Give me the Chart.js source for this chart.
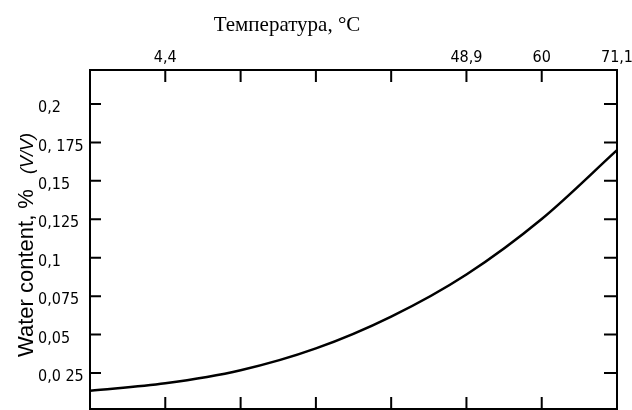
<!DOCTYPE html>
<html>
<head>
<meta charset="utf-8">
<script src="https://cdn.jsdelivr.net/npm/chart.js@4.4.0/dist/chart.umd.min.js"></script>
<style>
  body { margin: 0; background: #fff; }
  #wrap { width: 632px; height: 410px; }
</style>
</head>
<body>
<div id="wrap"><canvas id="waterChart" width="632" height="410"></canvas></div>
<script>
// curve (temperature in °C, water content in % V/V)
const tempC = [-6.67, 4.44, 15.56, 26.67, 37.78, 48.89, 60, 71.11];
const water = [0.0135, 0.0183, 0.0268, 0.041, 0.0617, 0.0891, 0.1252, 0.170];

// ticks every 20 °F (20..160 °F), only some of them carry a label
const tempTicks = [-6.67, 4.44, 15.56, 26.67, 37.78, 48.89, 60, 71.11];
const tempLabels = ['', '4,4', '', '', '', '48,9', '60', '71,1'];
const waterTicks = [0.025, 0.05, 0.075, 0.1, 0.125, 0.15, 0.175, 0.2];
const waterLabels = ['0,0 25', '0,05', '0,075', '0,1', '0,125', '0,15', '0, 175', '0,2'];

const tickFont = { family: "'DejaVu Sans Condensed', 'DejaVu Sans'", size: 16 };

// tick marks point into the plot on all four sides
const tickLen = { x: 12, x2: 12, y: 11, y2: 13 };
const inwardTicks = {
  id: 'inwardTicks',
  afterDraw(chart) {
    const ctx = chart.ctx;
    const a = chart.chartArea;
    ctx.save();
    ctx.strokeStyle = '#000';
    ctx.lineWidth = 2;
    ctx.beginPath();
    Object.keys(tickLen).forEach(id => {
      const s = chart.scales[id];
      const len = tickLen[id];
      s.ticks.forEach(t => {
        const p = s.getPixelForValue(t.value);
        if (s.position === 'top') { ctx.moveTo(p, a.top); ctx.lineTo(p, a.top + len); }
        if (s.position === 'bottom') { ctx.moveTo(p, a.bottom); ctx.lineTo(p, a.bottom - len); }
        if (s.position === 'left') { ctx.moveTo(a.left, p); ctx.lineTo(a.left + len, p); }
        if (s.position === 'right') { ctx.moveTo(a.right, p); ctx.lineTo(a.right - len, p); }
      });
    });
    ctx.stroke();
    ctx.restore();
  }
};

// axis titles: serif title on top, rotated one with italic (V/V) on the left
const axisTitles = {
  id: 'axisTitles',
  afterDraw(chart) {
    const ctx = chart.ctx;
    ctx.save();
    ctx.fillStyle = '#000';
    ctx.font = "21px 'Liberation Serif'";
    ctx.textAlign = 'center';
    ctx.textBaseline = 'alphabetic';
    ctx.fillText('Температура, °C', 287, 31);

    ctx.translate(33, 357);
    ctx.rotate(-Math.PI / 2);
    ctx.textAlign = 'left';
    ctx.font = "22px 'Liberation Sans'";
    const main = 'Water content, %';
    ctx.fillText(main, 0, 0);
    const w = ctx.measureText(main).width;
    ctx.font = "italic 18px 'Liberation Sans'";
    ctx.fillText('(V/V)', w + 15, 0);
    ctx.restore();
  }
};

const edge = { display: true, color: '#000', width: 2 };
const noGrid = { display: false, drawTicks: false };

// force the box sizes and drop the label overflow padding
function boxSize(w, h) {
  return s => {
    if (w !== null) s.width = w;
    if (h !== null) s.height = h;
    s.paddingLeft = s.paddingRight = s.paddingTop = s.paddingBottom = 0;
  };
}

const chart = new Chart(document.getElementById('waterChart'), {
  type: 'line',
  data: {
    datasets: [{
      data: tempC.map((t, i) => ({ x: t, y: water[i] })),
      borderColor: '#000',
      borderWidth: 2.5,
      pointRadius: 0,
      fill: false,
      cubicInterpolationMode: 'monotone'
    }]
  },
  options: {
    responsive: false,
    animation: false,
    layout: { padding: { left: 38, top: 0, right: 0, bottom: 0 } },
    plugins: { legend: { display: false }, tooltip: { enabled: false } },
    scales: {
      x: {
        type: 'linear', position: 'bottom',
        min: tempTicks[0], max: tempTicks[tempTicks.length - 1],
        afterBuildTicks: s => { s.ticks = tempTicks.map(v => ({ value: v })); },
        afterFit: boxSize(null, 1),
        ticks: { display: false },
        grid: noGrid,
        border: edge
      },
      x2: {
        type: 'linear', position: 'top',
        min: tempTicks[0], max: tempTicks[tempTicks.length - 1],
        afterBuildTicks: s => { s.ticks = tempTicks.map(v => ({ value: v })); },
        afterFit: boxSize(null, 70),
        ticks: {
          autoSkip: false, maxRotation: 0, padding: 3, color: '#000', font: tickFont,
          callback: (v, i) => tempLabels[i]
        },
        grid: noGrid,
        border: edge
      },
      y: {
        type: 'linear', position: 'left',
        min: 0.0016, max: 0.2221,
        afterBuildTicks: s => { s.ticks = waterTicks.map(v => ({ value: v })); },
        afterFit: boxSize(52, null),
        ticks: {
          autoSkip: false, crossAlign: 'far', color: '#000',
          font: Object.assign({}, tickFont, { lineHeight: '8px' }),
          // empty first line nudges the label a little below its tick, as in the print
          callback: (v, i) => ['', waterLabels[i]]
        },
        grid: noGrid,
        border: edge
      },
      y2: {
        type: 'linear', position: 'right',
        min: 0.0016, max: 0.2221,
        afterBuildTicks: s => { s.ticks = waterTicks.map(v => ({ value: v })); },
        afterFit: boxSize(15, null),
        ticks: { display: false },
        grid: noGrid,
        border: edge
      }
    }
  },
  plugins: [inwardTicks, axisTitles]
});
</script>
</body>
</html>
